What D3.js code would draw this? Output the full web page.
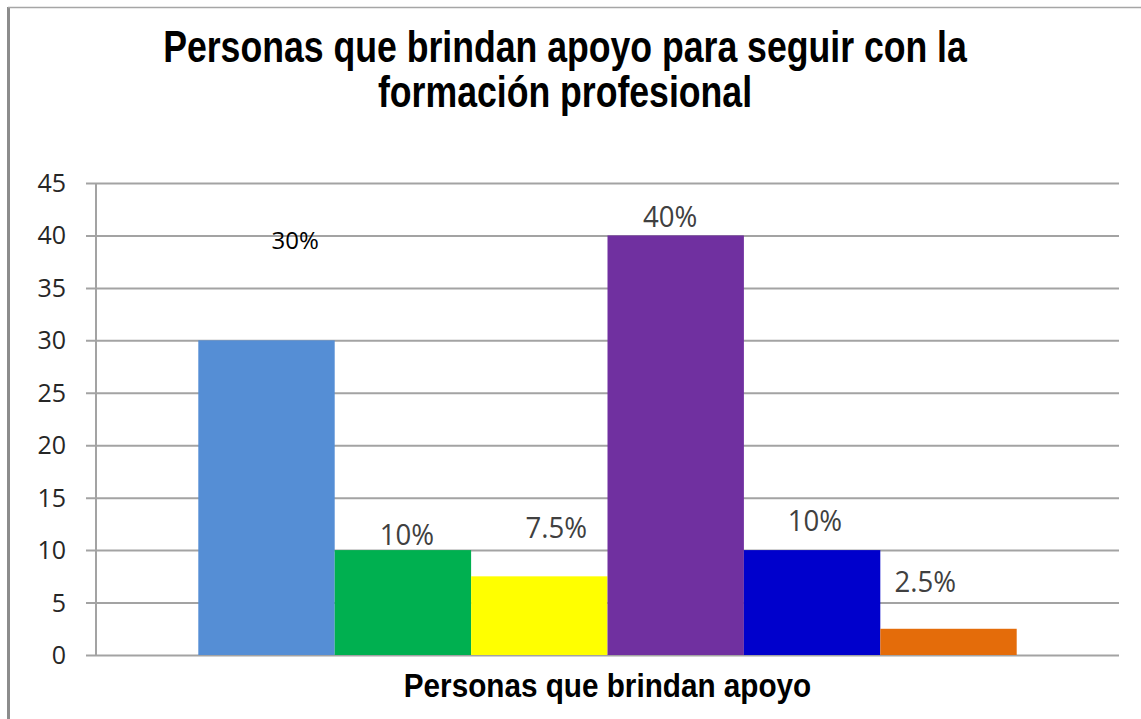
<!DOCTYPE html>
<html lang="es">
<head>
    <meta charset="UTF-8">
    <title>Personas que brindan apoyo</title>
    <style>
        body { margin: 0; background: #ffffff; }
        svg { display: block; }
    </style>
</head>
<body>
<div id="chart"></div>
<script src="https://d3js.org/d3.v7.min.js"></script>
<script>
    // data
    var category = ["Personas que brindan apoyo"];
    var series = ["s1", "s2", "s3", "s4", "s5", "s6"];
    var values = [30, 10, 7.5, 40, 10, 2.5];
    var labels = ["30%", "10%", "7.5%", "40%", "10%", "2.5%"];
    // where each label sits (value units) and its sideways shift (share of a bar)
    var labelAt = [38.7, 10.5, 11.15, 40.8, 11.8, 6.0];
    var labelShift = [0.21, 0.03, 0.125, -0.04, 0.02, -0.17];
    var colors = ["#558ed5", "#00b050", "#ffff00", "#7030a0", "#0000cc", "#e46c0a"];
    var yTicks = [0, 5, 10, 15, 20, 25, 30, 35, 40, 45];
    var titleLines = ["Personas que brindan apoyo para seguir con la", "formación profesional"];

    var W = 1141, H = 719;
    var plotL = 96, plotR = 1119, plotT = 183, plotB = 655;

    var svg = d3.select("#chart").append("svg")
        .attr("width", W)
        .attr("height", H);

    // outer chart frame
    svg.append("line").attr("x1", 8.5).attr("x2", 8.5).attr("y1", 7).attr("y2", H)
        .style("stroke", "#8c8c8c").style("stroke-width", 3);
    svg.append("line").attr("x1", 8).attr("x2", W).attr("y1", 7.5).attr("y2", 7.5)
        .style("stroke", "#a6a6a6").style("stroke-width", 1.5);

    var y = d3.scaleLinear().domain([0, 45]).range([plotB, plotT]);
    var x0 = d3.scaleBand().domain(category).range([plotL, plotR])
        .paddingInner(0).paddingOuter(0.125);
    var x1 = d3.scaleBand().domain(series).range([0, x0.bandwidth()]);

    // gridlines + tick marks (left of the axis)
    var yAxis = d3.axisLeft(y).tickValues(yTicks)
        .tickSize(-(plotR - plotL)).tickSizeOuter(0).tickFormat("");
    var g = svg.append("g").attr("transform", "translate(" + plotL + ",0)").call(yAxis);
    g.select(".domain").remove();
    g.selectAll(".tick line")
        .attr("x1", -10)
        .style("stroke", "#a3a3a3")
        .style("stroke-width", 2);

    // tick labels
    svg.append("g").selectAll("text")
        .data(yTicks)
        .join("text")
        .attr("x", 66)
        .attr("y", function (d) { return y(d) + 9; })
        .attr("text-anchor", "end")
        .style("font-family", "'Open Sans', sans-serif")
        .style("font-size", "25px")
        .style("fill", "#262626")
        .text(function (d) { return d; });

    // vertical axis
    svg.append("line")
        .attr("x1", plotL).attr("x2", plotL)
        .attr("y1", y(45)).attr("y2", y(0))
        .style("stroke", "#a3a3a3").style("stroke-width", 2);

    // bars
    var barG = svg.append("g").attr("transform", "translate(" + x0(category[0]) + ",0)");
    barG.selectAll("rect")
        .data(values)
        .join("rect")
        .attr("x", function (d, i) { return x1(series[i]); })
        .attr("y", function (d) { return y(d); })
        .attr("width", x1.bandwidth())
        .attr("height", function (d) { return y(0) - y(d); })
        .style("fill", function (d, i) { return colors[i]; });

    // data labels
    barG.selectAll("text")
        .data(labels)
        .join("text")
        .attr("transform", function (d, i) {
            var cx = x1(series[i]) + x1.bandwidth() * (0.5 + labelShift[i]);
            return "translate(" + cx + "," + y(labelAt[i]) + ") scale(" + (i === 0 ? 1 : 0.92) + ",1)";
        })
        .attr("text-anchor", "middle")
        .style("font-family", "'Open Sans', sans-serif")
        .style("font-size", function (d, i) { return i === 0 ? "24px" : "30px"; })
        .style("fill", function (d, i) { return i === 0 ? "#000000" : "#404040"; })
        .text(function (d) { return d; });

    // title
    var cxTitle = 565;
    svg.append("g").selectAll("text")
        .data(titleLines)
        .join("text")
        .attr("transform", function (d, i) {
            return "translate(" + cxTitle + "," + (62 + i * 45) + ") scale(0.81,1)";
        })
        .attr("text-anchor", "middle")
        .style("font-family", "'Liberation Sans', Arial, sans-serif")
        .style("font-weight", "bold")
        .style("font-size", "44px")
        .style("fill", "#000000")
        .text(function (d) { return d; });

    // category axis title
    svg.append("text")
        .attr("transform", "translate(" + (x0(category[0]) + x0.bandwidth() / 2) + ",697) scale(0.9,1)")
        .attr("text-anchor", "middle")
        .style("font-family", "'Liberation Sans', Arial, sans-serif")
        .style("font-weight", "bold")
        .style("font-size", "33px")
        .style("fill", "#000000")
        .text(category[0]);
</script>
</body>
</html>
